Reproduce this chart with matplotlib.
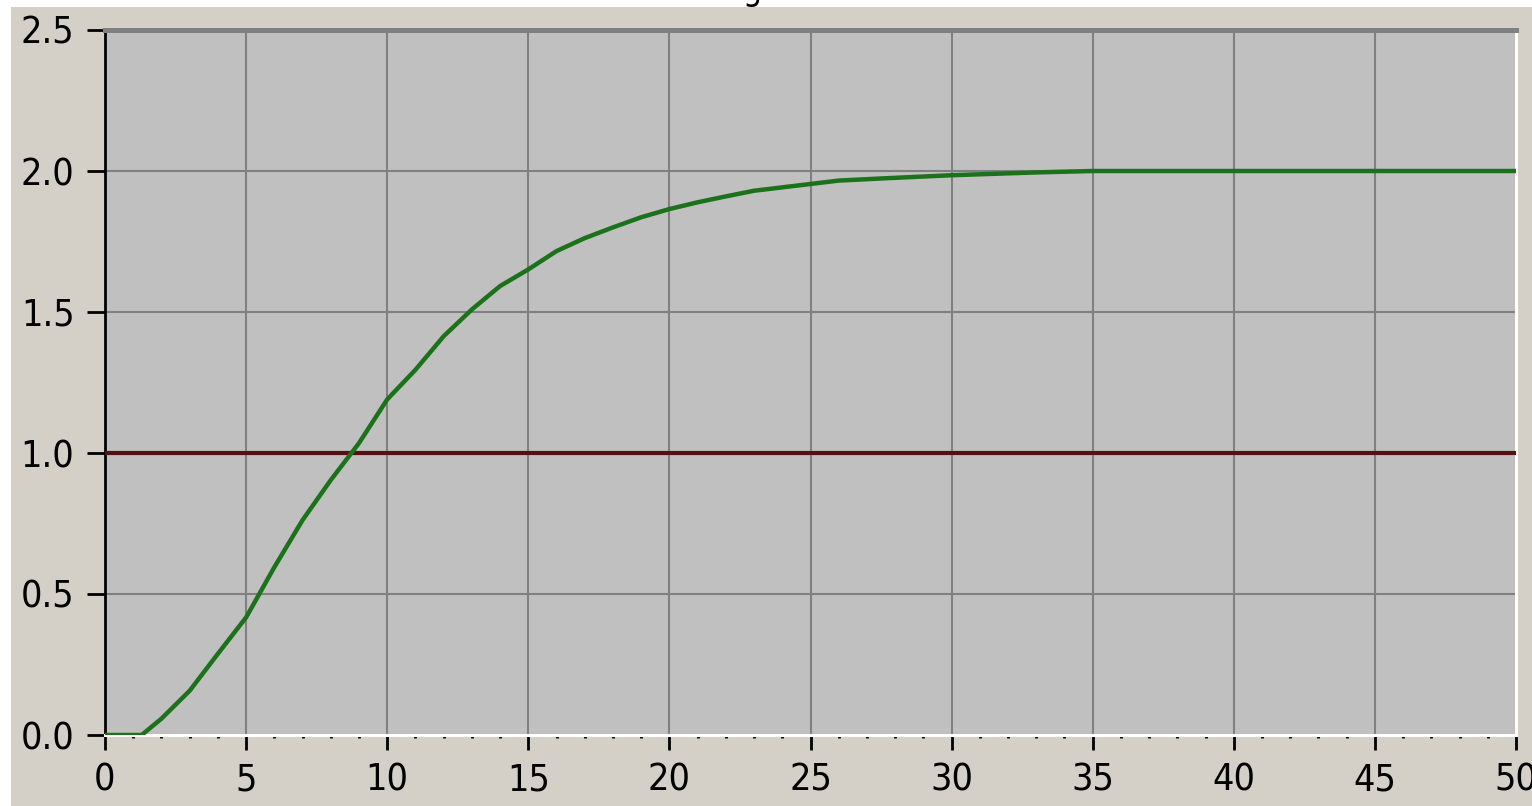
import matplotlib.pyplot as plt
from matplotlib.patches import Rectangle
from matplotlib.ticker import MultipleLocator

# step response
t = [0, 1.3, 2, 3, 4, 5, 6, 7, 8, 9, 10, 11, 12, 13, 14, 15, 16, 17, 18,
     19, 20, 21, 22, 23, 24, 25, 26, 27.6, 30, 33, 35, 40, 45, 50]
response = [0, 0, 0.058, 0.157, 0.288, 0.417, 0.595, 0.762, 0.904, 1.035,
            1.19, 1.295, 1.414, 1.509, 1.592, 1.651, 1.716, 1.762, 1.80,
            1.836, 1.865, 1.889, 1.91, 1.93, 1.942, 1.954, 1.966, 1.974,
            1.985, 1.995, 2.0, 2.0, 2.0, 2.0]
setpoint_t = [0, 50]
setpoint = [1.0, 1.0]

x_ticks = list(range(0, 51, 5))
y_ticks = [0.0, 0.5, 1.0, 1.5, 2.0, 2.5]

W, H = 1532, 806
plt.rcParams["font.family"] = ["DejaVu Sans"]
plt.rcParams["font.stretch"] = "condensed"
fig = plt.figure(figsize=(W / 100, H / 100), dpi=100, facecolor="white")

# beige panel, leaving the thin white strips at the top and left
fig.patches.append(Rectangle((11 / W, 0), 1 - 11 / W, 1 - 7 / H,
                             transform=fig.transFigure, facecolor="#d4d0c8",
                             edgecolor="none", zorder=0))

# title cut off by the top of the window
for x, s in [(445, "PK"), (603, "п"), (742, "g")]:
    fig.text(x / W, 1 - 7 / H, s, fontsize=24, va="bottom", ha="left",
             color="black", zorder=-1)

ax = fig.add_axes([105 / W, 1 - 735 / H, 1411 / W, 705 / H])
ax.set_zorder(2)
ax.set_facecolor("#c0c0c0")

ax.plot(setpoint_t, setpoint, color="#521212", lw=3.0, zorder=3,
        solid_capstyle="butt")
ax.plot(t, response, color="#1b721b", lw=3.2, zorder=4,
        solid_capstyle="butt")

ax.set_xlim(0, 50)
ax.set_ylim(0, 2.5)
ax.set_xticks(x_ticks)
ax.set_yticks(y_ticks)
ax.set_yticklabels([f"{v:.1f}" for v in y_ticks])
ax.xaxis.set_minor_locator(MultipleLocator(1))

ax.grid(True, which="major", color="#808080", lw=1.5)
ax.set_axisbelow(True)

ax.spines["left"].set_color("black")
ax.spines["left"].set_linewidth(2)
ax.spines["top"].set_color("#808080")
ax.spines["top"].set_linewidth(3.6)
ax.spines["right"].set_color("white")
ax.spines["right"].set_linewidth(2.2)
ax.spines["bottom"].set_color("white")
ax.spines["bottom"].set_linewidth(2.2)

ax.tick_params(axis="x", which="major", direction="out", length=11,
               width=2, color="black", pad=9, labelsize=27)
ax.tick_params(axis="x", which="minor", direction="out", length=2.5,
               width=2, color="black")
ax.tick_params(axis="y", which="major", direction="out", length=13,
               width=2, color="black", pad=9, labelsize=27)

fig.savefig("out.png", dpi=100, facecolor=fig.get_facecolor())
